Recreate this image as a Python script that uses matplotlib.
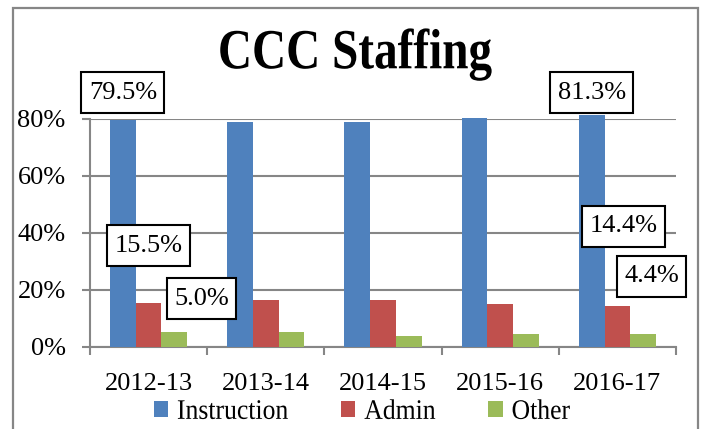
import matplotlib
matplotlib.use("Agg")
import matplotlib.pyplot as plt
import numpy as np
from matplotlib.patches import Rectangle
from matplotlib.path import Path
from matplotlib.transforms import Affine2D
from matplotlib.patheffects import AbstractPathEffect

categories = ["2012-13", "2013-14", "2014-15", "2015-16", "2016-17"]
series_names = ["Instruction", "Admin", "Other"]
instruction = [79.5, 78.9, 78.8, 80.3, 81.3]
admin = [15.5, 16.4, 16.4, 15.0, 14.4]
other = [5.0, 5.0, 3.8, 4.3, 4.4]
yticks = [0, 20, 40, 60, 80]

colors = ["#4F81BD", "#C0504D", "#9BBB59"]
grid_c = "#868686"
font = ["Liberation Serif", "DejaVu Serif"]
plt.rcParams["font.family"] = font


class VStretch(AbstractPathEffect):
    """Stretch glyph outlines vertically about their own centre."""
    def __init__(self, sy):
        super().__init__()
        self.sy = sy

    def draw_path(self, renderer, gc, tpath, affine, rgbFace=None):
        ext = tpath.get_extents(affine)
        cy = 0.5 * (ext.y0 + ext.y1)
        aff = affine + Affine2D().translate(0, -cy).scale(1, self.sy).translate(0, cy)
        renderer.draw_path(gc, tpath, aff, rgbFace)


def tallbox(x0, y0, width, height, mutation_size):
    padx = 0.28 * mutation_size
    pady = 0.36 * mutation_size
    xa, xb = x0 - padx, x0 + width + padx
    ya, yb = y0 - pady, y0 + height + pady
    return Path([(xa, ya), (xb, ya), (xb, yb), (xa, yb), (xa, ya)], closed=True)


W, H = 704, 429
fig = plt.figure(figsize=(W / 100, H / 100), dpi=100)
fig.patch.set_facecolor("white")

# chart border
fig.patches.append(Rectangle((13 / W, -0.05), (698 - 13) / W, 1.05 - 8 / H,
                             transform=fig.transFigure, fill=False,
                             edgecolor=grid_c, linewidth=1.6))

ax = fig.add_axes([90 / W, (H - 346.7) / H, (676 - 90) / W, (346.7 - 119) / H])
x = np.arange(len(categories))
bw = 0.219
for i, (vals, name) in enumerate(zip([instruction, admin, other], series_names)):
    ax.bar(x + (i - 1) * bw, vals, width=bw, color=colors[i], label=name,
           zorder=3, clip_on=False)

ax.set_xlim(-0.5, len(categories) - 0.5)
ax.set_ylim(0, 80)
ax.set_yticks(yticks)
ax.set_yticklabels([f"{v}%" for v in yticks])
ax.yaxis.grid(True, color=grid_c, linewidth=1.5, zorder=0)
ax.set_axisbelow(True)
for s in ["top", "right"]:
    ax.spines[s].set_visible(False)
for s in ["left", "bottom"]:
    ax.spines[s].set_color(grid_c)
    ax.spines[s].set_linewidth(1.5)
ax.tick_params(axis="y", length=5.5, width=1.5, color=grid_c, labelsize=19, pad=12)
ax.set_xticks(x)
ax.set_xticklabels(categories)
ax.set_xticks(np.arange(-0.5, len(categories)), minor=True)
ax.tick_params(axis="x", which="major", length=0, labelsize=19, pad=19)
ax.tick_params(axis="x", which="minor", length=6, width=1.5, color=grid_c)

# data labels
label_specs = [
    (0 - bw, 89.3, f"{instruction[0]}%"),
    (4 - bw, 89.3, f"{instruction[4]}%"),
    (0.0, 35.4, f"{admin[0]}%"),
    (0.45, 16.9, f"{other[0]}%"),
    (4.05, 42.3, f"{admin[4]}%"),
    (4.29, 24.8, f"{other[4]}%"),
]
for lx, ly, txt in label_specs:
    ax.text(lx, ly, txt, ha="center", va="center", fontsize=19, zorder=5,
            clip_on=False,
            bbox=dict(boxstyle=tallbox, facecolor="white",
                      edgecolor="black", linewidth=1.5))

title = fig.text(355 / W, 1 - 55 / H, "CCC Staffing", ha="center", va="center",
                 fontsize=34, fontweight="bold")
title.set_path_effects([VStretch(1.2)])

handles, labels = ax.get_legend_handles_labels()
leg = fig.legend(handles, labels, loc="center", bbox_to_anchor=(362 / W, 1 - 412 / H),
                 ncol=3, frameon=False, fontsize=18.5, handlelength=0.55,
                 handleheight=0.55, handletextpad=0.35, columnspacing=2.05, borderpad=0)
for t in leg.get_texts():
    t.set_path_effects([VStretch(1.1)])

fig.savefig("out.png", dpi=100)
